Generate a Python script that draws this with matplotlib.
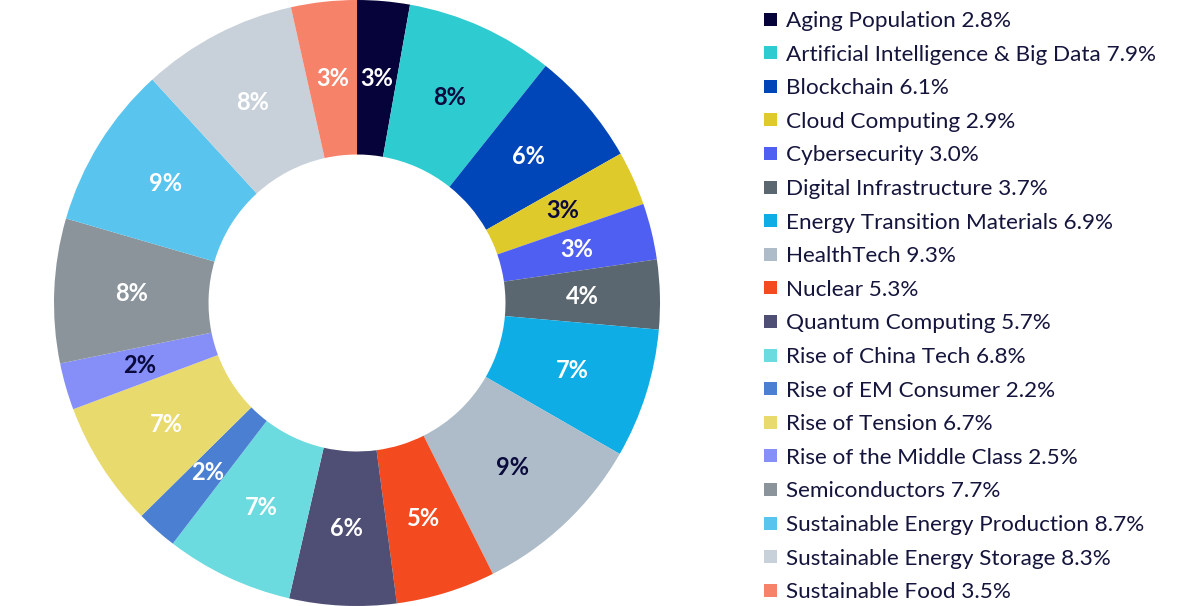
import matplotlib
matplotlib.use("Agg")
import matplotlib.pyplot as plt
from matplotlib.patches import Rectangle
import numpy as np

categories = [
    "Aging Population", "Artificial Intelligence & Big Data", "Blockchain",
    "Cloud Computing", "Cybersecurity", "Digital Infrastructure",
    "Energy Transition Materials", "HealthTech", "Nuclear",
    "Quantum Computing", "Rise of China Tech", "Rise of EM Consumer",
    "Rise of Tension", "Rise of the Middle Class", "Semiconductors",
    "Sustainable Energy Production", "Sustainable Energy Storage",
    "Sustainable Food",
]
values = [2.8, 7.9, 6.1, 2.9, 3.0, 3.7, 6.9, 9.3, 5.3, 5.7, 6.8, 2.2, 6.7,
          2.5, 7.7, 8.7, 8.3, 3.5]
slice_labels = ["3%", "8%", "6%", "3%", "3%", "4%", "7%", "9%", "5%", "6%",
                "7%", "2%", "7%", "2%", "8%", "9%", "8%", "3%"]
colors = ["#05033a", "#2ecbd1", "#0046b8", "#dfca2c", "#4f5ff2", "#5b6770",
          "#0fade6", "#adbcc8", "#f44a1f", "#4f4e74", "#6bdbdf", "#4a7fd2",
          "#e9da6e", "#868ff7", "#8b949b", "#59c4ee", "#c8d1d9", "#f7826a"]
dark_label = ["#0a0a3c" if c in ("#2ecbd1", "#dfca2c", "#adbcc8", "#868ff7")
              else "white" for c in colors]

plt.rcParams['font.family'] = ['Lato', 'DejaVu Sans']

W, H = 1200, 606
fig = plt.figure(figsize=(W / 100, H / 100), dpi=100)
cx, cy, R = 357, 303, 303
ax = fig.add_axes([(cx - R) / W, (cy - R) / H, 2 * R / W, 2 * R / H])

inner = 0.49
wedges, _ = ax.pie(values, colors=colors, startangle=90, counterclock=False,
                   radius=1.0, wedgeprops=dict(width=1 - inner, linewidth=0))
ax.set_xlim(-1, 1)
ax.set_ylim(-1, 1)
ax.set_aspect("equal")
ax.axis("off")

rmid = (1 + inner) / 2
for w, lab, tc in zip(wedges, slice_labels, dark_label):
    ang = np.deg2rad((w.theta1 + w.theta2) / 2)
    ax.text(rmid * np.cos(ang), rmid * np.sin(ang), lab, ha="center",
            va="center", fontsize=17, fontweight="bold", color=tc)

# legend
y0, dy = 19, 33.6
for i, (cat, v, c) in enumerate(zip(categories, values, colors)):
    yc = y0 + i * dy
    fig.patches.append(Rectangle((764 / W, 1 - (yc + 6.5) / H), 13 / W,
                                 13 / H, transform=fig.transFigure,
                                 facecolor=c, edgecolor="none"))
    fig.text(786 / W, 1 - yc / H, f"{cat} {v:.1f}%", ha="left",
             va="center_baseline", fontsize=16.2, color="#14143c")

fig.savefig("out.png", dpi=100)
